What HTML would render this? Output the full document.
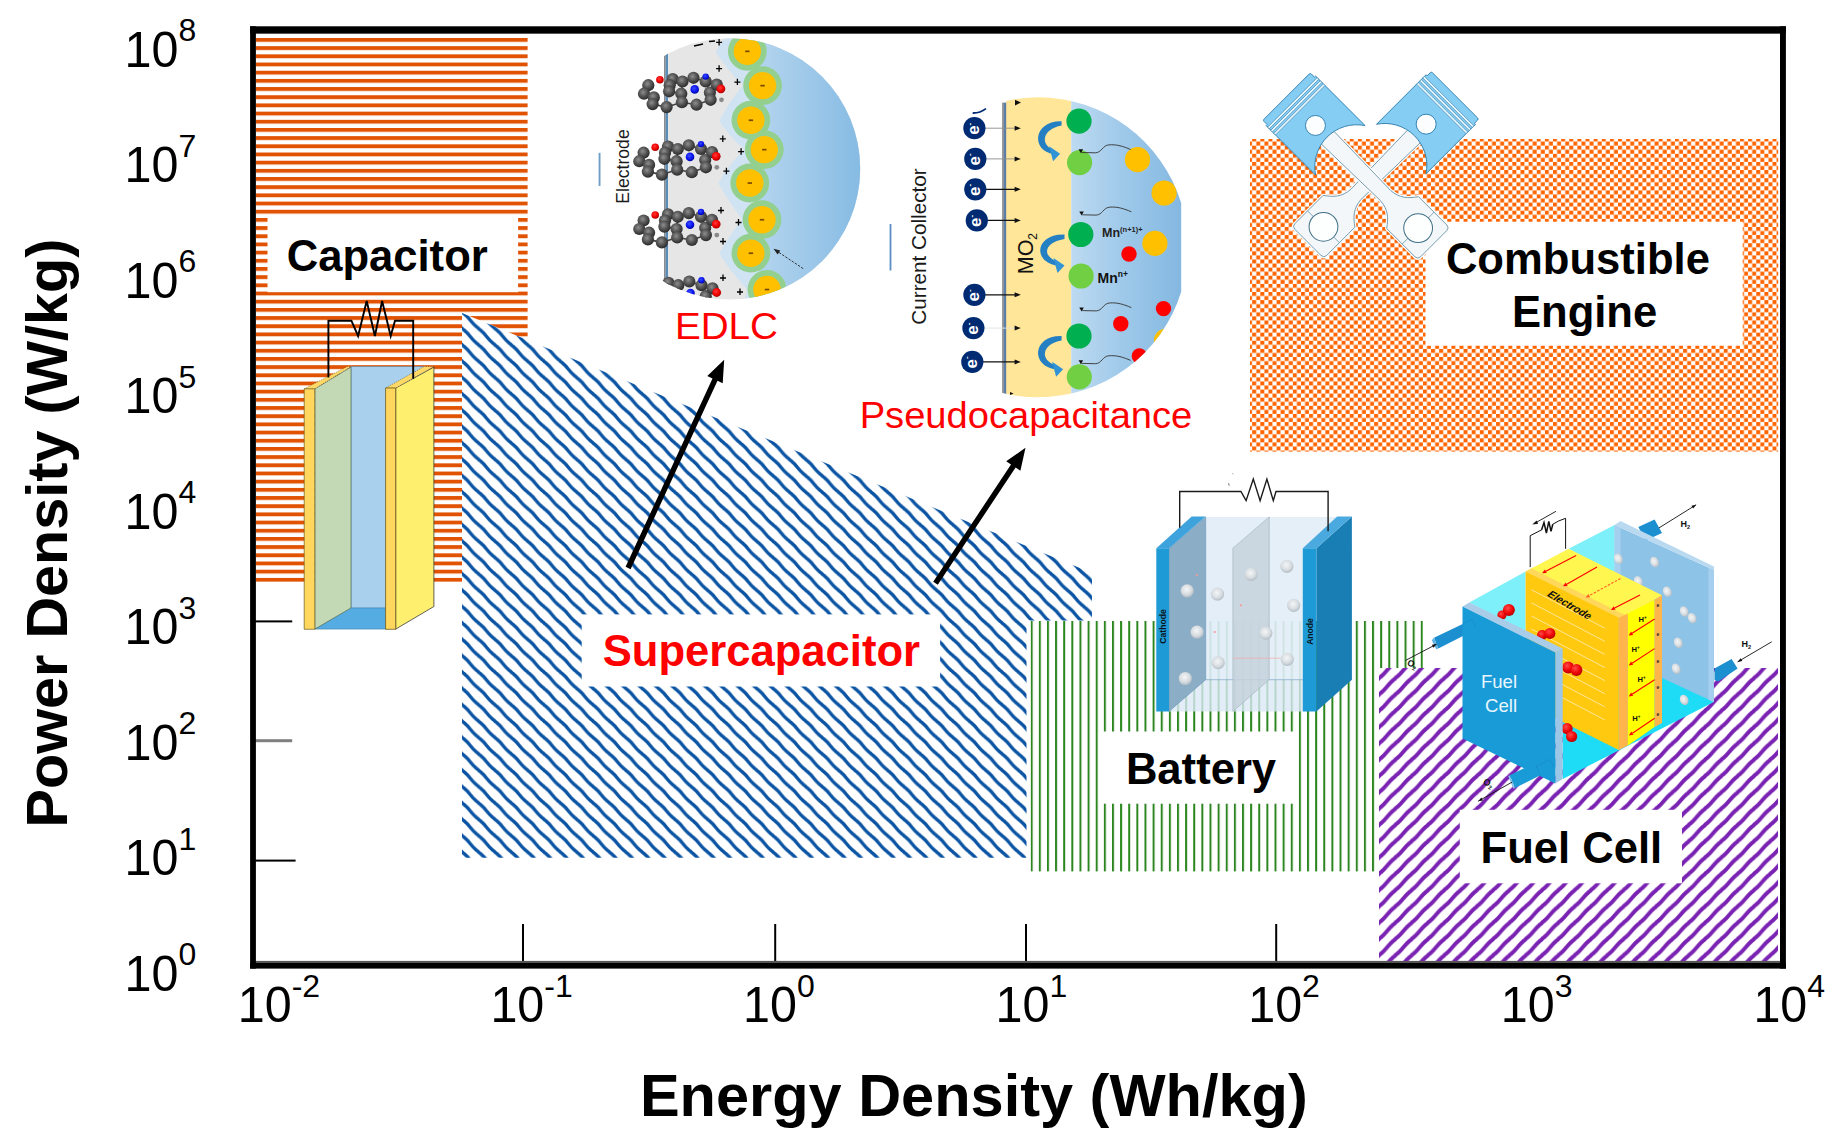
<!DOCTYPE html>
<html lang="en">
<head>
<meta charset="utf-8">
<title>Ragone plot - energy storage devices</title>
<style>
html,body{margin:0;padding:0;background:#fff;}
body{width:1839px;height:1147px;overflow:hidden;font-family:"Liberation Sans", Arial, Helvetica, sans-serif;}
svg{display:block;}
</style>
</head>
<body>
<svg width="1839" height="1147" viewBox="0 0 1839 1147">
<rect x="0" y="0" width="1839" height="1147" fill="#fff"/>
<defs>
<pattern id="pOrange" patternUnits="userSpaceOnUse" x="0" y="38.0" width="10" height="8.18">
  <rect x="0" y="0" width="10" height="3.85" fill="#e15203"/>
</pattern>
<pattern id="pBlue" patternUnits="userSpaceOnUse" x="462.1" y="328.4" width="16.36" height="16.36">
  <path d="M-4,-4 L0,0 Q4.64,3.54 8.18,8.18 T16.36,16.36 L20.36,20.36 M-4,12.36 L4,20.36 M12.36,-4 L20.36,4" stroke="#0a54a3" stroke-width="3.4" fill="none"/>
</pattern>
<pattern id="pPurple" patternUnits="userSpaceOnUse" x="1379" y="662" width="16.3" height="16.3">
  <path d="M-4,20.30 L0,16.30 Q4.53,12.68 8.15,8.15 T16.30,0 L20.30,-4 M-4,4 L4,-4 M12.30,20.30 L20.30,12.30" stroke="#7a22b2" stroke-width="3.95" fill="none"/>
</pattern>
<pattern id="pCheck" patternUnits="userSpaceOnUse" x="1252.2" y="137.55" width="8.13" height="8.13">
  <rect x="0" y="0" width="3.95" height="3.95" fill="#ff6400"/>
  <rect x="4.065" y="4.065" width="3.95" height="3.95" fill="#ff6400"/>
</pattern>
<pattern id="pGreen" patternUnits="userSpaceOnUse" x="1030.7" y="0" width="8.127" height="10">
  <rect x="0" y="0" width="2.0" height="10" fill="#2c861f"/>
</pattern>
</defs>
<rect x="256" y="36" width="271.6" height="546" fill="url(#pOrange)"/>
<rect x="1250" y="139" width="528.2" height="312.6" fill="url(#pCheck)"/>
<rect x="1030.5" y="621" width="392.5" height="250.4" fill="url(#pGreen)"/>
<polygon points="462,313 1092,573 1092,620.5 1026.5,620.5 1026.5,857.8 462,857.8" fill="#fff"/>
<polygon points="462,313 1092,573 1092,620.5 1026.5,620.5 1026.5,857.8 462,857.8" fill="url(#pBlue)"/>
<rect x="1379" y="668" width="399" height="293" fill="#fff"/>
<rect x="1379" y="668" width="399" height="293" fill="url(#pPurple)"/>
<rect x="267.5" y="215.0" width="250.6" height="77.2" fill="#fff"/>
<text x="387.2" y="271.0" font-family='"Liberation Sans", Arial, Helvetica, sans-serif' font-weight="700" font-size="43.6" text-anchor="middle" fill="#000">Capacitor</text>
<rect x="581.7" y="614.4" width="358.4" height="72.1" fill="#fff"/>
<text x="761.4" y="665.9" font-family='"Liberation Sans", Arial, Helvetica, sans-serif' font-weight="700" font-size="43.6" text-anchor="middle" fill="#ff0000">Supercapacitor</text>
<rect x="1425.5" y="221.7" width="317.2" height="124.0" fill="#fff"/>
<text x="1577.9" y="274.4" font-family='"Liberation Sans", Arial, Helvetica, sans-serif' font-weight="700" font-size="43.6" text-anchor="middle" fill="#000">Combustible</text>
<text x="1584.6" y="326.8" font-family='"Liberation Sans", Arial, Helvetica, sans-serif' font-weight="700" font-size="43.6" text-anchor="middle" fill="#000">Engine</text>
<rect x="1098.6" y="731.5" width="199.4" height="72.2" fill="#fff"/>
<text x="1201" y="783.7" font-family='"Liberation Sans", Arial, Helvetica, sans-serif' font-weight="700" font-size="43.6" text-anchor="middle" fill="#000">Battery</text>
<rect x="1459.8" y="809.8" width="222.2" height="73.5" fill="#fff"/>
<text x="1571.4" y="862.6" font-family='"Liberation Sans", Arial, Helvetica, sans-serif' font-weight="700" font-size="43.6" text-anchor="middle" fill="#000">Fuel Cell</text>
<polygon points="351.0,366.5 424.7,366.5 424.7,423.7 386.2,423.7 386.2,608.4 351.0,608.4" fill="#a9d1ee" stroke="#5b86a6" stroke-width="0.6" stroke-linejoin="round" />
<polygon points="314.8,629.1 351.0,607.9 386.2,607.9 386.2,629.1" fill="#55ace2" stroke="#3b78a6" stroke-width="0.6" stroke-linejoin="round" />
<polygon points="314.8,388.8 351.0,367.1 351.0,607.9 314.8,629.1" fill="#c3d8b4" stroke="#55705a" stroke-width="0.7" stroke-linejoin="round" />
<polygon points="304.2,388.8 347.4,366.5 351.0,366.5 314.8,388.8" fill="#ffd966" stroke="#3a3a3a" stroke-width="0.5" stroke-linejoin="round" stroke-dasharray="1.2 1.2"/>
<polygon points="304.2,388.8 314.8,388.8 314.8,629.3 304.2,629.3" fill="#ffd75e" stroke="#6b5a1e" stroke-width="0.7" stroke-linejoin="round" />
<polygon points="395.7,388.0 433.9,367.1 433.9,606.5 395.7,629.1" fill="#ffef6e" stroke="#3a3a3a" stroke-width="0.8" stroke-linejoin="round" />
<polygon points="385.6,388.0 424.2,366.5 433.9,366.5 395.7,388.0" fill="#ffd966" stroke="#3a3a3a" stroke-width="0.5" stroke-linejoin="round" stroke-dasharray="1.2 1.2"/>
<polygon points="385.6,388.0 395.7,388.0 395.7,629.3 385.6,629.3" fill="#ffd75e" stroke="#6b5a1e" stroke-width="0.8" stroke-linejoin="round" />
<path d="M328.4,377.5 L328.4,320.7 L351.4,320.7 L358.1,336 L366.7,301 L374.9,336 L382.1,301 L390.7,336 L395,320.7 L413.2,320.7 L413.2,378.7" fill="none" stroke="#000" stroke-width="1.9" stroke-linejoin="miter"/>
<polygon points="630.6,569.2 717.5,380.8 722.7,383.2 724.2,359.7 707.3,376.1 712.5,378.5 625.6,566.8" fill="#000" />
<polygon points="937.8,584.7 1015.6,467.5 1020.4,470.7 1025.5,447.7 1006.2,461.3 1011.0,464.5 933.2,581.7" fill="#000" />
<defs>
<clipPath id="clipE"><circle cx="729.6" cy="168.8" r="130.6"/></clipPath>
<linearGradient id="gEblue" x1="745" y1="0" x2="861" y2="0" gradientUnits="userSpaceOnUse">
  <stop offset="0" stop-color="#b9d8f0"/><stop offset="0.45" stop-color="#a3cbea"/><stop offset="1" stop-color="#86bbe3"/>
</linearGradient>
<radialGradient id="gBallG" cx="0.42" cy="0.38" r="0.65">
  <stop offset="0" stop-color="#8e8e8e"/><stop offset="0.5" stop-color="#565656"/><stop offset="1" stop-color="#262626"/>
</radialGradient>
<radialGradient id="gBallR" cx="0.42" cy="0.38" r="0.65">
  <stop offset="0" stop-color="#ff3a3a"/><stop offset="0.6" stop-color="#f00000"/><stop offset="1" stop-color="#a00000"/>
</radialGradient>
<radialGradient id="gBallB" cx="0.42" cy="0.38" r="0.65">
  <stop offset="0" stop-color="#3a4cff"/><stop offset="0.6" stop-color="#0a14f0"/><stop offset="1" stop-color="#0008a0"/>
</radialGradient>
</defs>
<rect x="598.6" y="152.8" width="1.9" height="33.2" fill="#6f9fc6"/>
<g clip-path="url(#clipE)">
<rect x="665" y="30" width="200" height="280" fill="#e6e6e6"/>
<path d="M735,30 Q723.3,36.3 715.8,51.8 Q724.8,66.8 742.6,85.6 Q726.9,105.2 719.4,120.7 Q728.4,135.7 744.3,149.6 Q725.8,168.0 718.3,183.5 Q727.3,198.5 742.0,219.7 Q726.9,238.2 719.4,253.7 Q728.4,268.7 747.0,289.5 L742,312 L870,312 L870,30 Z" fill="#cfe3f3"/>
<polygon points="752.0,30.0 749.3,35.3 755.3,51.3 749.3,67.3 764.6,69.6 770.6,85.6 764.6,101.6 752.9,104.2 758.9,120.2 752.9,136.2 766.3,133.6 772.3,149.6 766.3,165.6 751.8,167.0 757.8,183.0 751.8,199.0 764.0,203.7 770.0,219.7 764.0,235.7 752.9,237.2 758.9,253.2 752.9,269.2 769.0,273.5 775.0,289.5 769.0,305.5 770.0,312.0 870.0,312.0 870.0,30.0" fill="url(#gEblue)"/>
<rect x="664.0" y="30" width="1.6" height="280" fill="#8c8c8c"/>
<rect x="665.6" y="30" width="2.4" height="280" fill="#5a8db8"/>
<circle cx="747.3" cy="51.3" r="19.4" fill="#93d08f"/>
<circle cx="762.6" cy="85.6" r="19.4" fill="#93d08f"/>
<circle cx="750.9" cy="120.2" r="19.4" fill="#93d08f"/>
<circle cx="764.3" cy="149.6" r="19.4" fill="#93d08f"/>
<circle cx="749.8" cy="183.0" r="19.4" fill="#93d08f"/>
<circle cx="762.0" cy="219.7" r="19.4" fill="#93d08f"/>
<circle cx="750.9" cy="253.2" r="19.4" fill="#93d08f"/>
<circle cx="767.0" cy="289.5" r="19.4" fill="#93d08f"/>
<circle cx="747.3" cy="51.3" r="13.7" fill="#ffc000"/>
<rect x="745.1" y="50.5" width="4.4" height="1.7" fill="#7a4a00"/>
<circle cx="762.6" cy="85.6" r="13.7" fill="#ffc000"/>
<rect x="760.4" y="84.8" width="4.4" height="1.7" fill="#7a4a00"/>
<circle cx="750.9" cy="120.2" r="13.7" fill="#ffc000"/>
<rect x="748.7" y="119.4" width="4.4" height="1.7" fill="#7a4a00"/>
<circle cx="764.3" cy="149.6" r="13.7" fill="#ffc000"/>
<rect x="762.1" y="148.8" width="4.4" height="1.7" fill="#7a4a00"/>
<circle cx="749.8" cy="183.0" r="13.7" fill="#ffc000"/>
<rect x="747.6" y="182.2" width="4.4" height="1.7" fill="#7a4a00"/>
<circle cx="762.0" cy="219.7" r="13.7" fill="#ffc000"/>
<rect x="759.8" y="218.9" width="4.4" height="1.7" fill="#7a4a00"/>
<circle cx="750.9" cy="253.2" r="13.7" fill="#ffc000"/>
<rect x="748.7" y="252.4" width="4.4" height="1.7" fill="#7a4a00"/>
<circle cx="767.0" cy="289.5" r="13.7" fill="#ffc000"/>
<rect x="764.8" y="288.7" width="4.4" height="1.7" fill="#7a4a00"/>
<line x1="648.3" y1="85.2" x2="644.0" y2="93.7" stroke="#444" stroke-width="1.6"/>
<line x1="644.0" y1="93.7" x2="653.8" y2="97.4" stroke="#444" stroke-width="1.6"/>
<line x1="653.8" y1="97.4" x2="652.6" y2="104.1" stroke="#444" stroke-width="1.6"/>
<line x1="652.6" y1="104.1" x2="666.6" y2="107.1" stroke="#444" stroke-width="1.6"/>
<line x1="672.7" y1="79.1" x2="669.7" y2="85.2" stroke="#444" stroke-width="1.6"/>
<line x1="669.7" y1="85.2" x2="669.1" y2="91.3" stroke="#444" stroke-width="1.6"/>
<line x1="682.5" y1="81.5" x2="681.3" y2="93.7" stroke="#444" stroke-width="1.6"/>
<line x1="681.3" y1="93.7" x2="681.9" y2="102.2" stroke="#444" stroke-width="1.6"/>
<line x1="693.5" y1="77.8" x2="705.7" y2="81.5" stroke="#444" stroke-width="1.6"/>
<line x1="705.7" y1="81.5" x2="709.9" y2="92.5" stroke="#444" stroke-width="1.6"/>
<line x1="709.9" y1="92.5" x2="710.6" y2="99.8" stroke="#444" stroke-width="1.6"/>
<line x1="681.9" y1="102.2" x2="696.5" y2="104.7" stroke="#444" stroke-width="1.6"/>
<line x1="669.1" y1="91.3" x2="681.3" y2="93.7" stroke="#444" stroke-width="1.6"/>
<line x1="672.7" y1="79.1" x2="682.5" y2="81.5" stroke="#444" stroke-width="1.6"/>
<line x1="682.5" y1="81.5" x2="693.5" y2="77.8" stroke="#444" stroke-width="1.6"/>
<line x1="666.6" y1="107.1" x2="681.9" y2="102.2" stroke="#444" stroke-width="1.6"/>
<line x1="696.5" y1="104.7" x2="710.6" y2="99.8" stroke="#444" stroke-width="1.6"/>
<line x1="705.7" y1="81.5" x2="716.7" y2="84.6" stroke="#444" stroke-width="1.6"/>
<circle cx="648.3" cy="85.2" r="6.1" fill="url(#gBallG)"/>
<circle cx="644.0" cy="93.7" r="6.1" fill="url(#gBallG)"/>
<circle cx="653.8" cy="97.4" r="6.1" fill="url(#gBallG)"/>
<circle cx="652.6" cy="104.1" r="6.1" fill="url(#gBallG)"/>
<circle cx="666.6" cy="107.1" r="6.1" fill="url(#gBallG)"/>
<circle cx="672.7" cy="79.1" r="6.1" fill="url(#gBallG)"/>
<circle cx="669.7" cy="85.2" r="6.1" fill="url(#gBallG)"/>
<circle cx="669.1" cy="91.3" r="6.1" fill="url(#gBallG)"/>
<circle cx="682.5" cy="81.5" r="6.1" fill="url(#gBallG)"/>
<circle cx="681.3" cy="93.7" r="6.1" fill="url(#gBallG)"/>
<circle cx="681.9" cy="102.2" r="6.1" fill="url(#gBallG)"/>
<circle cx="693.5" cy="77.8" r="6.1" fill="url(#gBallG)"/>
<circle cx="696.5" cy="104.7" r="6.1" fill="url(#gBallG)"/>
<circle cx="705.7" cy="81.5" r="6.1" fill="url(#gBallG)"/>
<circle cx="709.9" cy="92.5" r="6.1" fill="url(#gBallG)"/>
<circle cx="710.6" cy="99.8" r="6.1" fill="url(#gBallG)"/>
<circle cx="716.7" cy="84.6" r="6.1" fill="url(#gBallG)"/>
<circle cx="721.5" cy="99.8" r="2.4" fill="#8a8a8a"/>
<circle cx="659.9" cy="79.7" r="3.8" fill="url(#gBallR)"/>
<circle cx="720.9" cy="88.8" r="4.4" fill="url(#gBallR)"/>
<circle cx="705.7" cy="76.6" r="3.2" fill="url(#gBallB)"/>
<circle cx="694.7" cy="89.4" r="4.3" fill="url(#gBallB)"/>
<line x1="643.6" y1="152.7" x2="639.3" y2="161.2" stroke="#444" stroke-width="1.6"/>
<line x1="639.3" y1="161.2" x2="649.1" y2="164.9" stroke="#444" stroke-width="1.6"/>
<line x1="649.1" y1="164.9" x2="647.9" y2="171.6" stroke="#444" stroke-width="1.6"/>
<line x1="647.9" y1="171.6" x2="661.9" y2="174.6" stroke="#444" stroke-width="1.6"/>
<line x1="668.0" y1="146.6" x2="665.0" y2="152.7" stroke="#444" stroke-width="1.6"/>
<line x1="665.0" y1="152.7" x2="664.4" y2="158.8" stroke="#444" stroke-width="1.6"/>
<line x1="677.8" y1="149.0" x2="676.6" y2="161.2" stroke="#444" stroke-width="1.6"/>
<line x1="676.6" y1="161.2" x2="677.2" y2="169.7" stroke="#444" stroke-width="1.6"/>
<line x1="688.8" y1="145.3" x2="701.0" y2="149.0" stroke="#444" stroke-width="1.6"/>
<line x1="701.0" y1="149.0" x2="705.2" y2="160.0" stroke="#444" stroke-width="1.6"/>
<line x1="705.2" y1="160.0" x2="705.9" y2="167.3" stroke="#444" stroke-width="1.6"/>
<line x1="677.2" y1="169.7" x2="691.8" y2="172.2" stroke="#444" stroke-width="1.6"/>
<line x1="664.4" y1="158.8" x2="676.6" y2="161.2" stroke="#444" stroke-width="1.6"/>
<line x1="668.0" y1="146.6" x2="677.8" y2="149.0" stroke="#444" stroke-width="1.6"/>
<line x1="677.8" y1="149.0" x2="688.8" y2="145.3" stroke="#444" stroke-width="1.6"/>
<line x1="661.9" y1="174.6" x2="677.2" y2="169.7" stroke="#444" stroke-width="1.6"/>
<line x1="691.8" y1="172.2" x2="705.9" y2="167.3" stroke="#444" stroke-width="1.6"/>
<line x1="701.0" y1="149.0" x2="712.0" y2="152.1" stroke="#444" stroke-width="1.6"/>
<circle cx="643.6" cy="152.7" r="6.1" fill="url(#gBallG)"/>
<circle cx="639.3" cy="161.2" r="6.1" fill="url(#gBallG)"/>
<circle cx="649.1" cy="164.9" r="6.1" fill="url(#gBallG)"/>
<circle cx="647.9" cy="171.6" r="6.1" fill="url(#gBallG)"/>
<circle cx="661.9" cy="174.6" r="6.1" fill="url(#gBallG)"/>
<circle cx="668.0" cy="146.6" r="6.1" fill="url(#gBallG)"/>
<circle cx="665.0" cy="152.7" r="6.1" fill="url(#gBallG)"/>
<circle cx="664.4" cy="158.8" r="6.1" fill="url(#gBallG)"/>
<circle cx="677.8" cy="149.0" r="6.1" fill="url(#gBallG)"/>
<circle cx="676.6" cy="161.2" r="6.1" fill="url(#gBallG)"/>
<circle cx="677.2" cy="169.7" r="6.1" fill="url(#gBallG)"/>
<circle cx="688.8" cy="145.3" r="6.1" fill="url(#gBallG)"/>
<circle cx="691.8" cy="172.2" r="6.1" fill="url(#gBallG)"/>
<circle cx="701.0" cy="149.0" r="6.1" fill="url(#gBallG)"/>
<circle cx="705.2" cy="160.0" r="6.1" fill="url(#gBallG)"/>
<circle cx="705.9" cy="167.3" r="6.1" fill="url(#gBallG)"/>
<circle cx="712.0" cy="152.1" r="6.1" fill="url(#gBallG)"/>
<circle cx="716.8" cy="167.3" r="2.4" fill="#8a8a8a"/>
<circle cx="655.2" cy="147.2" r="3.8" fill="url(#gBallR)"/>
<circle cx="716.2" cy="156.3" r="4.4" fill="url(#gBallR)"/>
<circle cx="701.0" cy="144.1" r="3.2" fill="url(#gBallB)"/>
<circle cx="690.0" cy="156.9" r="4.3" fill="url(#gBallB)"/>
<line x1="643.6" y1="220.5" x2="639.3" y2="229.0" stroke="#444" stroke-width="1.6"/>
<line x1="639.3" y1="229.0" x2="649.1" y2="232.7" stroke="#444" stroke-width="1.6"/>
<line x1="649.1" y1="232.7" x2="647.9" y2="239.4" stroke="#444" stroke-width="1.6"/>
<line x1="647.9" y1="239.4" x2="661.9" y2="242.4" stroke="#444" stroke-width="1.6"/>
<line x1="668.0" y1="214.4" x2="665.0" y2="220.5" stroke="#444" stroke-width="1.6"/>
<line x1="665.0" y1="220.5" x2="664.4" y2="226.6" stroke="#444" stroke-width="1.6"/>
<line x1="677.8" y1="216.8" x2="676.6" y2="229.0" stroke="#444" stroke-width="1.6"/>
<line x1="676.6" y1="229.0" x2="677.2" y2="237.5" stroke="#444" stroke-width="1.6"/>
<line x1="688.8" y1="213.1" x2="701.0" y2="216.8" stroke="#444" stroke-width="1.6"/>
<line x1="701.0" y1="216.8" x2="705.2" y2="227.8" stroke="#444" stroke-width="1.6"/>
<line x1="705.2" y1="227.8" x2="705.9" y2="235.1" stroke="#444" stroke-width="1.6"/>
<line x1="677.2" y1="237.5" x2="691.8" y2="240.0" stroke="#444" stroke-width="1.6"/>
<line x1="664.4" y1="226.6" x2="676.6" y2="229.0" stroke="#444" stroke-width="1.6"/>
<line x1="668.0" y1="214.4" x2="677.8" y2="216.8" stroke="#444" stroke-width="1.6"/>
<line x1="677.8" y1="216.8" x2="688.8" y2="213.1" stroke="#444" stroke-width="1.6"/>
<line x1="661.9" y1="242.4" x2="677.2" y2="237.5" stroke="#444" stroke-width="1.6"/>
<line x1="691.8" y1="240.0" x2="705.9" y2="235.1" stroke="#444" stroke-width="1.6"/>
<line x1="701.0" y1="216.8" x2="712.0" y2="219.9" stroke="#444" stroke-width="1.6"/>
<circle cx="643.6" cy="220.5" r="6.1" fill="url(#gBallG)"/>
<circle cx="639.3" cy="229.0" r="6.1" fill="url(#gBallG)"/>
<circle cx="649.1" cy="232.7" r="6.1" fill="url(#gBallG)"/>
<circle cx="647.9" cy="239.4" r="6.1" fill="url(#gBallG)"/>
<circle cx="661.9" cy="242.4" r="6.1" fill="url(#gBallG)"/>
<circle cx="668.0" cy="214.4" r="6.1" fill="url(#gBallG)"/>
<circle cx="665.0" cy="220.5" r="6.1" fill="url(#gBallG)"/>
<circle cx="664.4" cy="226.6" r="6.1" fill="url(#gBallG)"/>
<circle cx="677.8" cy="216.8" r="6.1" fill="url(#gBallG)"/>
<circle cx="676.6" cy="229.0" r="6.1" fill="url(#gBallG)"/>
<circle cx="677.2" cy="237.5" r="6.1" fill="url(#gBallG)"/>
<circle cx="688.8" cy="213.1" r="6.1" fill="url(#gBallG)"/>
<circle cx="691.8" cy="240.0" r="6.1" fill="url(#gBallG)"/>
<circle cx="701.0" cy="216.8" r="6.1" fill="url(#gBallG)"/>
<circle cx="705.2" cy="227.8" r="6.1" fill="url(#gBallG)"/>
<circle cx="705.9" cy="235.1" r="6.1" fill="url(#gBallG)"/>
<circle cx="712.0" cy="219.9" r="6.1" fill="url(#gBallG)"/>
<circle cx="716.8" cy="235.1" r="2.4" fill="#8a8a8a"/>
<circle cx="655.2" cy="215.0" r="3.8" fill="url(#gBallR)"/>
<circle cx="716.2" cy="224.1" r="4.4" fill="url(#gBallR)"/>
<circle cx="701.0" cy="211.9" r="3.2" fill="url(#gBallB)"/>
<circle cx="690.0" cy="224.7" r="4.3" fill="url(#gBallB)"/>
<line x1="644.1" y1="288.9" x2="639.8" y2="297.4" stroke="#444" stroke-width="1.6"/>
<line x1="639.8" y1="297.4" x2="649.6" y2="301.1" stroke="#444" stroke-width="1.6"/>
<line x1="649.6" y1="301.1" x2="648.4" y2="307.8" stroke="#444" stroke-width="1.6"/>
<line x1="648.4" y1="307.8" x2="662.4" y2="310.8" stroke="#444" stroke-width="1.6"/>
<line x1="668.5" y1="282.8" x2="665.5" y2="288.9" stroke="#444" stroke-width="1.6"/>
<line x1="665.5" y1="288.9" x2="664.9" y2="295.0" stroke="#444" stroke-width="1.6"/>
<line x1="678.3" y1="285.2" x2="677.1" y2="297.4" stroke="#444" stroke-width="1.6"/>
<line x1="677.1" y1="297.4" x2="677.7" y2="305.9" stroke="#444" stroke-width="1.6"/>
<line x1="689.3" y1="281.5" x2="701.5" y2="285.2" stroke="#444" stroke-width="1.6"/>
<line x1="701.5" y1="285.2" x2="705.7" y2="296.2" stroke="#444" stroke-width="1.6"/>
<line x1="705.7" y1="296.2" x2="706.4" y2="303.5" stroke="#444" stroke-width="1.6"/>
<line x1="677.7" y1="305.9" x2="692.3" y2="308.4" stroke="#444" stroke-width="1.6"/>
<line x1="664.9" y1="295.0" x2="677.1" y2="297.4" stroke="#444" stroke-width="1.6"/>
<line x1="668.5" y1="282.8" x2="678.3" y2="285.2" stroke="#444" stroke-width="1.6"/>
<line x1="678.3" y1="285.2" x2="689.3" y2="281.5" stroke="#444" stroke-width="1.6"/>
<line x1="662.4" y1="310.8" x2="677.7" y2="305.9" stroke="#444" stroke-width="1.6"/>
<line x1="692.3" y1="308.4" x2="706.4" y2="303.5" stroke="#444" stroke-width="1.6"/>
<line x1="701.5" y1="285.2" x2="712.5" y2="288.3" stroke="#444" stroke-width="1.6"/>
<circle cx="644.1" cy="288.9" r="6.1" fill="url(#gBallG)"/>
<circle cx="639.8" cy="297.4" r="6.1" fill="url(#gBallG)"/>
<circle cx="649.6" cy="301.1" r="6.1" fill="url(#gBallG)"/>
<circle cx="648.4" cy="307.8" r="6.1" fill="url(#gBallG)"/>
<circle cx="662.4" cy="310.8" r="6.1" fill="url(#gBallG)"/>
<circle cx="668.5" cy="282.8" r="6.1" fill="url(#gBallG)"/>
<circle cx="665.5" cy="288.9" r="6.1" fill="url(#gBallG)"/>
<circle cx="664.9" cy="295.0" r="6.1" fill="url(#gBallG)"/>
<circle cx="678.3" cy="285.2" r="6.1" fill="url(#gBallG)"/>
<circle cx="677.1" cy="297.4" r="6.1" fill="url(#gBallG)"/>
<circle cx="677.7" cy="305.9" r="6.1" fill="url(#gBallG)"/>
<circle cx="689.3" cy="281.5" r="6.1" fill="url(#gBallG)"/>
<circle cx="692.3" cy="308.4" r="6.1" fill="url(#gBallG)"/>
<circle cx="701.5" cy="285.2" r="6.1" fill="url(#gBallG)"/>
<circle cx="705.7" cy="296.2" r="6.1" fill="url(#gBallG)"/>
<circle cx="706.4" cy="303.5" r="6.1" fill="url(#gBallG)"/>
<circle cx="712.5" cy="288.3" r="6.1" fill="url(#gBallG)"/>
<circle cx="717.3" cy="303.5" r="2.4" fill="#8a8a8a"/>
<circle cx="655.7" cy="283.4" r="3.8" fill="url(#gBallR)"/>
<circle cx="716.7" cy="292.5" r="4.4" fill="url(#gBallR)"/>
<circle cx="701.5" cy="280.3" r="3.2" fill="url(#gBallB)"/>
<circle cx="690.5" cy="293.1" r="4.3" fill="url(#gBallB)"/>
<path d="M716.1,42.4 h6 M719.1,39.0 v6.4" stroke="#000" stroke-width="1.3" fill="none"/>
<path d="M716.1,68.7 h6 M719.1,65.3 v6.4" stroke="#000" stroke-width="1.3" fill="none"/>
<path d="M734.4,82.1 h6 M737.4,78.7 v6.4" stroke="#000" stroke-width="1.3" fill="none"/>
<path d="M719.8,138.9 h6 M722.8,135.5 v6.4" stroke="#000" stroke-width="1.3" fill="none"/>
<path d="M738.1,151.7 h6 M741.1,148.3 v6.4" stroke="#000" stroke-width="1.3" fill="none"/>
<path d="M723.4,171.2 h6 M726.4,167.8 v6.4" stroke="#000" stroke-width="1.3" fill="none"/>
<path d="M718.0,210.5 h6 M721.0,207.1 v6.4" stroke="#000" stroke-width="1.3" fill="none"/>
<path d="M735.5,222.5 h6 M738.5,219.1 v6.4" stroke="#000" stroke-width="1.3" fill="none"/>
<path d="M720.0,241.5 h6 M723.0,238.1 v6.4" stroke="#000" stroke-width="1.3" fill="none"/>
<path d="M720.0,278.0 h6 M723.0,274.6 v6.4" stroke="#000" stroke-width="1.3" fill="none"/>
<path d="M737.0,292.0 h6 M740.0,288.6 v6.4" stroke="#000" stroke-width="1.3" fill="none"/>
<path d="M694,46 l9,-2 M709,41.5 l6,-0.5" stroke="#000" stroke-width="1.6" fill="none"/>
<path d="M803.2,268.6 L776.5,250.8" stroke="#333" stroke-width="1" stroke-dasharray="2.4 1.4" fill="none"/>
<polygon points="773.5,248.8 780.3,250.5 777.6,254.4" fill="#222"/>
<path d="M787,287.5 l4,-2" stroke="#444" stroke-width="0.9"/>
<text transform="translate(628.6,166.5) rotate(-90)" font-family='"Liberation Sans", Arial, Helvetica, sans-serif' font-size="17.6" text-anchor="middle" fill="#1a1a1a">Electrode</text>
</g>
<text x="726.4" y="338.8" font-family='"Liberation Sans", Arial, Helvetica, sans-serif' font-size="37" text-anchor="middle" textLength="103" lengthAdjust="spacingAndGlyphs" fill="#ff0000">EDLC</text>
<defs>
<clipPath id="clipP0"><rect x="889.6" y="90" width="291.6" height="320"/></clipPath>
<clipPath id="clipP" clip-path="url(#clipP0)"><circle cx="1037.9" cy="247.3" r="150.0"/></clipPath>
<linearGradient id="gPblue" x1="1071" y1="0" x2="1181" y2="0" gradientUnits="userSpaceOnUse">
  <stop offset="0" stop-color="#bddaf1"/><stop offset="0.5" stop-color="#9dc8e9"/><stop offset="1" stop-color="#84b8e1"/>
</linearGradient>
</defs>
<rect x="889.6" y="224" width="1.8" height="46.5" fill="#5b8fc4"/>
<g clip-path="url(#clipP)">
<rect x="1006" y="86" width="65.2" height="330" fill="#ffe699"/>
<rect x="1071.2" y="86" width="120" height="330" fill="url(#gPblue)"/>
<rect x="1002" y="102.6" width="2" height="300" fill="#9a9a9a"/>
<rect x="1003.8" y="102.6" width="2.4" height="300" fill="#5c7fa8"/>
<line x1="984.4" y1="128.2" x2="1015" y2="128.2" stroke="#8c8c8c" stroke-width="0.9"/>
<polygon points="1014.6,125.7 1020.8,128.2 1014.6,130.7" fill="#111"/>
<line x1="985.3" y1="158.9" x2="1015" y2="158.9" stroke="#8c8c8c" stroke-width="0.9"/>
<polygon points="1014.6,156.4 1020.8,158.9 1014.6,161.4" fill="#111"/>
<line x1="985.3" y1="189.3" x2="1015" y2="189.3" stroke="#111" stroke-width="1.3"/>
<polygon points="1014.6,186.8 1020.8,189.3 1014.6,191.8" fill="#111"/>
<line x1="986.8" y1="220.4" x2="1015" y2="220.4" stroke="#111" stroke-width="1.3"/>
<polygon points="1014.6,217.9 1020.8,220.4 1014.6,222.9" fill="#111"/>
<line x1="984.4" y1="294.8" x2="1015" y2="294.8" stroke="#111" stroke-width="1.2"/>
<polygon points="1014.6,292.3 1020.8,294.8 1014.6,297.3" fill="#111"/>
<line x1="983.4" y1="328.1" x2="1015" y2="328.1" stroke="#e2e2e2" stroke-width="0.9"/>
<polygon points="1014.6,325.6 1020.8,328.1 1014.6,330.6" fill="#111"/>
<line x1="982.3" y1="361.9" x2="1015" y2="361.9" stroke="#111" stroke-width="1.3"/>
<polygon points="1014.6,359.4 1020.8,361.9 1014.6,364.4" fill="#111"/>
<polygon points="1015,99.8 1021,102.6 1015,105.4" fill="#111"/>
<polygon points="1010,392.0 1013.5,393.6 1010,395.2" fill="#111"/>
<circle cx="974.4" cy="128.2" r="11.1" fill="#002b73"/>
<text transform="translate(979.0,128.8) rotate(-90)" font-family='"Liberation Sans", Arial, Helvetica, sans-serif' font-size="17" font-weight="700" text-anchor="middle" fill="#fff">e<tspan font-size="8" dy="-7.5">-</tspan></text>
<circle cx="975.3" cy="158.9" r="11.1" fill="#002b73"/>
<text transform="translate(979.9,159.5) rotate(-90)" font-family='"Liberation Sans", Arial, Helvetica, sans-serif' font-size="17" font-weight="700" text-anchor="middle" fill="#fff">e<tspan font-size="8" dy="-7.5">-</tspan></text>
<circle cx="975.3" cy="189.3" r="11.1" fill="#002b73"/>
<text transform="translate(979.9,189.9) rotate(-90)" font-family='"Liberation Sans", Arial, Helvetica, sans-serif' font-size="17" font-weight="700" text-anchor="middle" fill="#fff">e<tspan font-size="8" dy="-7.5">-</tspan></text>
<circle cx="976.8" cy="220.4" r="11.1" fill="#002b73"/>
<text transform="translate(981.4,221.0) rotate(-90)" font-family='"Liberation Sans", Arial, Helvetica, sans-serif' font-size="17" font-weight="700" text-anchor="middle" fill="#fff">e<tspan font-size="8" dy="-7.5">-</tspan></text>
<circle cx="974.4" cy="294.8" r="11.1" fill="#002b73"/>
<text transform="translate(979.0,295.4) rotate(-90)" font-family='"Liberation Sans", Arial, Helvetica, sans-serif' font-size="17" font-weight="700" text-anchor="middle" fill="#fff">e<tspan font-size="8" dy="-7.5">-</tspan></text>
<circle cx="973.4" cy="328.1" r="11.1" fill="#002b73"/>
<text transform="translate(978.0,328.7) rotate(-90)" font-family='"Liberation Sans", Arial, Helvetica, sans-serif' font-size="17" font-weight="700" text-anchor="middle" fill="#fff">e<tspan font-size="8" dy="-7.5">-</tspan></text>
<circle cx="972.3" cy="361.9" r="11.1" fill="#002b73"/>
<text transform="translate(976.9,362.5) rotate(-90)" font-family='"Liberation Sans", Arial, Helvetica, sans-serif' font-size="17" font-weight="700" text-anchor="middle" fill="#fff">e<tspan font-size="8" dy="-7.5">-</tspan></text>
<path d="M972.6,113 Q980,113.2 986,108.6" stroke="#002b73" stroke-width="1.8" fill="none"/>
<path d="M1061.6,121.2 C1033.3,120.4 1030.3,150.7 1054.1,154.2 L1052.1,149.2 C1041.3,144.7 1041.3,129.4 1061.6,125.60000000000001 Z" fill="#2580c3"/>
<polygon points="1049.1,146.2 1060.1,153.7 1053.1,161.2" fill="#2f93d6"/>
<path d="M1064.5,234.5 C1034.8,233.7 1031.8,262.5 1058.5,266.0 L1056.5,261.0 C1042.8,256.5 1042.8,242.7 1064.5,238.89999999999998 Z" fill="#2580c3"/>
<polygon points="1053.5,258.0 1064.5,265.5 1057.5,273.0" fill="#2f93d6"/>
<path d="M1061.6,336.0 C1032.6,335.2 1029.6,366.3 1057.1,369.8 L1055.1,364.8 C1040.6,360.3 1040.6,344.2 1061.6,340.4 Z" fill="#2580c3"/>
<polygon points="1052.1,361.8 1063.1,369.3 1056.1,376.8" fill="#2f93d6"/>
<circle cx="1079" cy="121.1" r="12.6" fill="#00b050"/>
<circle cx="1079.6" cy="162.6" r="12.6" fill="#70cf42"/>
<circle cx="1080.8" cy="234.5" r="12.6" fill="#00b050"/>
<circle cx="1081.1" cy="276.0" r="12.6" fill="#70cf42"/>
<circle cx="1079.0" cy="336.0" r="12.6" fill="#00b050"/>
<circle cx="1079.3" cy="376.8" r="12.6" fill="#70cf42"/>
<circle cx="1137.5" cy="159.7" r="12.6" fill="#ffc000"/>
<circle cx="1164.1" cy="193.0" r="12.6" fill="#ffc000"/>
<circle cx="1154.9" cy="243.4" r="12.6" fill="#ffc000"/>
<circle cx="1129" cy="254" r="7.7" fill="#ff0000"/>
<circle cx="1163.5" cy="308.6" r="7.7" fill="#ff0000"/>
<circle cx="1120.8" cy="323.7" r="7.7" fill="#ff0000"/>
<circle cx="1139.4" cy="356.0" r="7.7" fill="#ff0000"/>
<circle cx="1166.4" cy="341" r="12.6" fill="#ffc000"/>
<path d="M1081.6,152.5 L1095.6,152.8 C1101.6,152.5 1102.6,145.5 1108.6,144.9 C1116.6,144.1 1123.6,146.5 1130.6,149.5" stroke="#333" stroke-width="0.9" fill="none"/><polygon points="1078.6,149.3 1083.1,149.3 1080.8999999999999,153.3" fill="#111"/>
<path d="M1082.3,214.8 L1096.3,215.10000000000002 C1102.3,214.8 1103.3,207.8 1109.3,207.20000000000002 C1117.3,206.4 1124.3,208.8 1131.3,211.8" stroke="#333" stroke-width="0.9" fill="none"/><polygon points="1079.3,211.60000000000002 1083.8,211.60000000000002 1081.6,215.60000000000002" fill="#111"/>
<path d="M1082.3,310.6 L1096.3,310.90000000000003 C1102.3,310.6 1103.3,303.6 1109.3,303.0 C1117.3,302.20000000000005 1124.3,304.6 1131.3,307.6" stroke="#333" stroke-width="0.9" fill="none"/><polygon points="1079.3,307.40000000000003 1083.8,307.40000000000003 1081.6,311.40000000000003" fill="#111"/>
<path d="M1081.6,363.4 L1095.6,363.7 C1101.6,363.4 1102.6,356.4 1108.6,355.79999999999995 C1116.6,355.0 1123.6,357.4 1130.6,360.4" stroke="#333" stroke-width="0.9" fill="none"/><polygon points="1078.6,360.2 1083.1,360.2 1080.8999999999999,364.2" fill="#111"/>
<text transform="translate(1033.2,253.6) rotate(-90)" font-family='"Liberation Sans", Arial, Helvetica, sans-serif' font-size="21.5" text-anchor="middle" fill="#111">MO<tspan font-size="12" dy="4">2</tspan></text>
<text x="1102" y="236.5" font-family='"Liberation Sans", Arial, Helvetica, sans-serif' font-size="12.5" font-weight="700" fill="#222">Mn<tspan font-size="7.5" dy="-5">(n+1)+</tspan></text>
<text x="1097.6" y="283" font-family='"Liberation Sans", Arial, Helvetica, sans-serif' font-size="14" font-weight="700" fill="#111">Mn<tspan font-size="8.5" dy="-6">n+</tspan></text>
</g>
<text transform="translate(926.3,246.5) rotate(-90)" font-family='"Liberation Sans", Arial, Helvetica, sans-serif' font-size="20.7" text-anchor="middle" fill="#1a1a1a">Current Collector</text>
<text x="1026" y="428" font-family='"Liberation Sans", Arial, Helvetica, sans-serif' font-size="37" text-anchor="middle" textLength="332.6" lengthAdjust="spacingAndGlyphs" fill="#ff0000">Pseudocapacitance</text>
<g transform="translate(1455,95.3) rotate(45)"><path d="M-9.5,34 L9.5,34 L7.2,140 C8,152 14,158 22.5,164 L22.5,204 Q22.5,208 18.5,208 L-18.5,208 Q-22.5,208 -22.5,204 L-22.5,164 C-14,158 -8,152 -7.2,140 Z" fill="#f3f7f9" stroke="#ffffff" stroke-width="3.2" stroke-linejoin="round"/><path d="M-9.5,34 L9.5,34 L7.2,140 C8,152 14,158 22.5,164 L22.5,204 Q22.5,208 18.5,208 L-18.5,208 Q-22.5,208 -22.5,204 L-22.5,164 C-14,158 -8,152 -7.2,140 Z" fill="#f3f7f9" stroke="#6f97aa" stroke-width="0.9" stroke-linejoin="round"/><path d="M-22.5,186 L-14.5,186 M14.5,186 L22.5,186" stroke="#6f97aa" stroke-width="0.8"/><circle cx="0" cy="186" r="14.4" fill="#fdfefe" stroke="#3f6f86" stroke-width="1"/></g>
<g transform="translate(1286.6,96.6) rotate(-45)"><path d="M-9.5,34 L9.5,34 L7.2,140 C8,152 14,158 22.5,164 L22.5,204 Q22.5,208 18.5,208 L-18.5,208 Q-22.5,208 -22.5,204 L-22.5,164 C-14,158 -8,152 -7.2,140 Z" fill="#f3f7f9" stroke="#ffffff" stroke-width="3.2" stroke-linejoin="round"/><path d="M-9.5,34 L9.5,34 L7.2,140 C8,152 14,158 22.5,164 L22.5,204 Q22.5,208 18.5,208 L-18.5,208 Q-22.5,208 -22.5,204 L-22.5,164 C-14,158 -8,152 -7.2,140 Z" fill="#f3f7f9" stroke="#6f97aa" stroke-width="0.9" stroke-linejoin="round"/><path d="M-22.5,186 L-14.5,186 M14.5,186 L22.5,186" stroke="#6f97aa" stroke-width="0.8"/><circle cx="0" cy="186" r="14.4" fill="#fdfefe" stroke="#3f6f86" stroke-width="1"/></g>
<g transform="translate(1455,95.3) rotate(45)"><path d="M-33.5,1.5 Q-33.5,0 -32,0 L32,0 Q33.5,0 33.5,1.5 L33.5,6 L35,6 L35,76 A42,42 0 0 0 -35,76 L-35,6 L-33.5,6 Z" fill="#86cdf3" stroke="#2f7fae" stroke-width="0.9" stroke-linejoin="round"/><rect x="-35" y="8.2" width="70" height="2.3" fill="#eaf6fd" stroke="#2f7fae" stroke-width="0.6"/><rect x="-35" y="12.6" width="70" height="2.3" fill="#eaf6fd" stroke="#2f7fae" stroke-width="0.6"/><rect x="-35" y="17.0" width="70" height="2.3" fill="#eaf6fd" stroke="#2f7fae" stroke-width="0.6"/><circle cx="0" cy="40.8" r="10" fill="#fbfdfe" stroke="#2f7fae" stroke-width="0.9"/></g>
<g transform="translate(1286.6,96.6) rotate(-45)"><path d="M-33.5,1.5 Q-33.5,0 -32,0 L32,0 Q33.5,0 33.5,1.5 L33.5,6 L35,6 L35,76 A42,42 0 0 0 -35,76 L-35,6 L-33.5,6 Z" fill="#86cdf3" stroke="#2f7fae" stroke-width="0.9" stroke-linejoin="round"/><rect x="-35" y="8.2" width="70" height="2.3" fill="#eaf6fd" stroke="#2f7fae" stroke-width="0.6"/><rect x="-35" y="12.6" width="70" height="2.3" fill="#eaf6fd" stroke="#2f7fae" stroke-width="0.6"/><rect x="-35" y="17.0" width="70" height="2.3" fill="#eaf6fd" stroke="#2f7fae" stroke-width="0.6"/><circle cx="0" cy="40.8" r="10" fill="#fbfdfe" stroke="#2f7fae" stroke-width="0.9"/></g>
<defs><radialGradient id="gBallW" cx="0.45" cy="0.4" r="0.6">
<stop offset="0" stop-color="#f4f6f7"/><stop offset="0.6" stop-color="#d9dee2"/><stop offset="1" stop-color="#b4bec6"/>
</radialGradient></defs>
<polygon points="1205.7,516.9 1337.2,516.9 1303.2,548.2 1303.2,711.4 1169.0,711.4 1169.0,548.2" fill="#dbe9f5" fill-opacity="0.8"/>
<polygon points="1205.7,516.9 1269.2,516.9 1269.2,679.7 1205.7,679.7" fill="#e4f0fa" fill-opacity="0.5"/>
<polygon points="1269.2,516.9 1337.2,516.9 1303.2,548.2 1303.2,679.7 1269.2,679.7" fill="#e6f1fa" fill-opacity="0.55"/>
<path d="M1205.7,679.7 L1303.2,679.7" stroke="#7fa6c6" stroke-width="0.7" fill="none"/>
<polygon points="1232.9,548.2 1269.2,516.9 1269.2,679.7 1232.9,711.4" fill="#c4d2dc" fill-opacity="0.82" stroke="#9fb0bb" stroke-width="0.6"/>
<polygon points="1169.0,548.2 1205.7,516.9 1205.7,679.7 1169.0,711.4" fill="#8badc6" stroke="#5f8fb2" stroke-width="0.5"/>
<polygon points="1156.3,548.2 1191.7,516.5 1205.7,516.5 1169.0,548.2" fill="#3ea3dd" />
<polygon points="1156.3,548.2 1169.0,548.2 1169.0,711.4 1156.3,711.4" fill="#1e9ad6" />
<polygon points="1316.4,548.2 1351.9,516.5 1351.9,679.7 1316.4,711.4" fill="#197eb3" />
<polygon points="1302.8,548.2 1337.2,516.5 1351.9,516.5 1316.4,548.2" fill="#4aa9df" />
<polygon points="1302.8,548.2 1316.4,548.2 1316.4,711.4 1302.8,711.4" fill="#1e9ad6" />
<circle cx="1187.2" cy="590.8" r="6.6" fill="url(#gBallW)"/>
<circle cx="1197.1" cy="632.1" r="6.6" fill="url(#gBallW)"/>
<circle cx="1185.3" cy="678.5" r="6.6" fill="url(#gBallW)"/>
<circle cx="1217.5" cy="594.2" r="6.6" fill="url(#gBallW)"/>
<circle cx="1218.2" cy="662.7" r="6.6" fill="url(#gBallW)"/>
<circle cx="1251.1" cy="574.3" r="6.6" fill="url(#gBallW)"/>
<circle cx="1265.8" cy="633.2" r="6.6" fill="url(#gBallW)"/>
<circle cx="1286.9" cy="566.3" r="6.6" fill="url(#gBallW)"/>
<circle cx="1293.7" cy="605.3" r="6.6" fill="url(#gBallW)"/>
<circle cx="1287.3" cy="659.3" r="6.6" fill="url(#gBallW)"/>
<path d="M1233,658.2 L1280.5,658.2" stroke="#f6a8a8" stroke-width="0.7"/>
<circle cx="1196.7" cy="575" r="1.1" fill="#f79a9a"/>
<circle cx="1240.9" cy="605.3" r="1.1" fill="#f79a9a"/>
<circle cx="1214.8" cy="632" r="1.1" fill="#f79a9a"/>
<path d="M1179.7,527.8 L1179.7,491.5 L1240.9,491.5 L1246.1,500.6 L1253.3,479.1 L1260.1,500.6 L1266.9,479.1 L1273.3,500.6 L1276,491.5 L1328.1,491.5 L1328.1,531.2" fill="none" stroke="#1a1a1a" stroke-width="1.4"/>
<path d="M1228.6,483.2 l0.6,2.6 M1232.5,473.5 l0.8,0.6" stroke="#555" stroke-width="0.8"/>
<text transform="translate(1165.6,626.5) rotate(-90)" font-family='"Liberation Sans", Arial, Helvetica, sans-serif' font-size="8.6" font-weight="700" text-anchor="middle" fill="#0a1420">Cathode</text>
<text transform="translate(1312.6,631.5) rotate(-90)" font-family='"Liberation Sans", Arial, Helvetica, sans-serif' font-size="8.6" font-weight="700" text-anchor="middle" fill="#0a1420">Anode</text>
<defs>
<radialGradient id="gBallR2" cx="0.4" cy="0.35" r="0.7">
<stop offset="0" stop-color="#ff4a4a"/><stop offset="0.55" stop-color="#f00808"/><stop offset="1" stop-color="#b00000"/>
</radialGradient>
<clipPath id="clipFront"><polygon points="1525.6,571.5 1618.8,617.7 1618.8,750 1525.6,703.4"/></clipPath>
</defs>
<polygon points="1434.0,637.7 1470.6,620.3 1475.8,629.5 1438.3,648.4" fill="#1c8fd1" />
<polygon points="1434.0,637.7 1438.3,648.4 1436.2,649.2 1431.8,640.2" fill="#5fb3e4" />
<polygon points="1638.3,527.1 1654.6,519.6 1662.0,533.0 1645.7,540.5" fill="#1c8fd1" />
<polygon points="1562.7,779.0 1713.9,701.9 1713.9,640.0 1562.7,640.0" fill="#1edcf6" />
<polygon points="1469.3,602.6 1525.6,571.5 1525.6,632.0" fill="#7df0fa" />
<polygon points="1568.6,548.7 1614.6,525.0 1614.6,574.0" fill="#7df0fa" />
<polygon points="1614.6,525.0 1713.9,570.0 1713.9,701.9 1614.6,656.0" fill="#8ec3e8" />
<polygon points="1614.6,525.0 1620.5,521.1 1713.9,566.5 1713.9,570.0" fill="#b9d9f0" />
<polygon points="1614.6,525.0 1620.5,528.0 1620.5,659.0 1614.6,656.0" fill="#a5cfee" />
<polygon points="1708.4,567.5 1713.9,570.0 1713.9,701.9 1708.4,699.4" fill="#a5cfee" />
<polygon points="1714.5,668.5 1731.6,659.0 1737.6,668.5 1718.3,681.5 1714.5,680.0" fill="#1c8fd1" />
<ellipse cx="1618.4" cy="558.8" rx="4.2" ry="5.4" fill="url(#gBallW)" transform="rotate(-25 1618.4 558.8)"/>
<ellipse cx="1654.6" cy="562" rx="4.2" ry="5.4" fill="url(#gBallW)" transform="rotate(-25 1654.6 562)"/>
<ellipse cx="1638.3" cy="581.3" rx="4.2" ry="5.4" fill="url(#gBallW)" transform="rotate(-25 1638.3 581.3)"/>
<ellipse cx="1667.3" cy="591.7" rx="4.2" ry="5.4" fill="url(#gBallW)" transform="rotate(-25 1667.3 591.7)"/>
<ellipse cx="1684.2" cy="611.5" rx="4.2" ry="5.4" fill="url(#gBallW)" transform="rotate(-25 1684.2 611.5)"/>
<ellipse cx="1692.2" cy="618.1" rx="4.2" ry="5.4" fill="url(#gBallW)" transform="rotate(-25 1692.2 618.1)"/>
<ellipse cx="1678.3" cy="642.7" rx="4.2" ry="5.4" fill="url(#gBallW)" transform="rotate(-25 1678.3 642.7)"/>
<ellipse cx="1676.2" cy="668.7" rx="4.2" ry="5.4" fill="url(#gBallW)" transform="rotate(-25 1676.2 668.7)"/>
<ellipse cx="1684.2" cy="699.9" rx="4.2" ry="5.4" fill="url(#gBallW)" transform="rotate(-25 1684.2 699.9)"/>
<polygon points="1525.6,571.5 1568.6,548.7 1662.0,595.2 1622.0,619.0" fill="#fff64f" />
<polygon points="1525.6,571.5 1531.5,568.4 1626.0,615.5 1618.8,619.0" fill="#ffd75a" />
<polygon points="1525.6,571.5 1618.8,617.7 1618.8,750.0 1525.6,703.4" fill="#ffc90f" />
<polygon points="1618.8,617.7 1627.9,613.4 1627.9,745.6 1618.8,750.0" fill="#ffb54c" />
<polygon points="1627.9,613.4 1654.6,599.7 1654.6,727.1 1627.9,745.6" fill="#ffff00" />
<polygon points="1654.6,599.7 1662.0,595.2 1662.0,723.0 1654.6,727.1" fill="#ffb54c" />
<g clip-path="url(#clipFront)"><line x1="1531.6" y1="589.8" x2="1604.8" y2="628.2" stroke="#ffe9a6" stroke-width="0.9"/><line x1="1531.6" y1="602.9" x2="1604.8" y2="641.3" stroke="#ffe9a6" stroke-width="0.9"/><line x1="1531.6" y1="616.0" x2="1604.8" y2="654.4" stroke="#ffe9a6" stroke-width="0.9"/><line x1="1531.6" y1="629.1" x2="1604.8" y2="667.5" stroke="#ffe9a6" stroke-width="0.9"/><line x1="1531.6" y1="642.2" x2="1604.8" y2="680.6" stroke="#ffe9a6" stroke-width="0.9"/><line x1="1531.6" y1="655.3" x2="1604.8" y2="693.7" stroke="#ffe9a6" stroke-width="0.9"/><line x1="1531.6" y1="668.4" x2="1604.8" y2="706.8" stroke="#ffe9a6" stroke-width="0.9"/><line x1="1531.6" y1="681.5" x2="1604.8" y2="719.9" stroke="#ffe9a6" stroke-width="0.9"/></g>
<line x1="1576.1" y1="555.4" x2="1545.8" y2="571.3" stroke="#ff0000" stroke-width="1.1" /><polygon points="1542.1,573.2 1544.9,569.6 1546.7,572.9" fill="#ff0000"/>
<line x1="1597" y1="567.1" x2="1566.7" y2="584.2" stroke="#ff0000" stroke-width="1.1" /><polygon points="1563.0,586.3 1565.7,582.6 1567.6,585.9" fill="#ff0000"/>
<line x1="1620.5" y1="578.5" x2="1589.3" y2="595.6" stroke="#ff5a2a" stroke-width="1.1" stroke-dasharray="2.5 1.5"/><polygon points="1585.6,597.6 1588.4,593.9 1590.2,597.3" fill="#ff5a2a"/>
<line x1="1640" y1="595" x2="1614.6" y2="608.0" stroke="#ff0000" stroke-width="1.1" /><polygon points="1610.9,609.9 1613.8,606.3 1615.5,609.7" fill="#ff0000"/>
<line x1="1654.6" y1="619" x2="1632.1" y2="633.2" stroke="#ff0000" stroke-width="1.1" /><polygon points="1628.6,635.5 1631.1,631.6 1633.2,634.9" fill="#ff0000"/>
<line x1="1654.6" y1="648.6" x2="1632.1" y2="663.2" stroke="#ff0000" stroke-width="1.1" /><polygon points="1628.6,665.5 1631.1,661.6 1633.2,664.8" fill="#ff0000"/>
<line x1="1654.6" y1="679.7" x2="1632.1" y2="694.2" stroke="#ff0000" stroke-width="1.1" /><polygon points="1628.6,696.5 1631.1,692.6 1633.2,695.8" fill="#ff0000"/>
<line x1="1654.6" y1="718.2" x2="1632.4" y2="733.2" stroke="#ff0000" stroke-width="1.1" /><polygon points="1628.9,735.5 1631.3,731.6 1633.4,734.7" fill="#ff0000"/>
<text x="1638.6" y="621.5" font-family='"Liberation Sans", Arial, Helvetica, sans-serif' font-size="7.6" font-weight="700" fill="#111">H<tspan font-size="4.6" dy="-3">+</tspan></text>
<text x="1631.6" y="652" font-family='"Liberation Sans", Arial, Helvetica, sans-serif' font-size="7.6" font-weight="700" fill="#111">H<tspan font-size="4.6" dy="-3">+</tspan></text>
<text x="1637.6" y="681.7" font-family='"Liberation Sans", Arial, Helvetica, sans-serif' font-size="7.6" font-weight="700" fill="#111">H<tspan font-size="4.6" dy="-3">+</tspan></text>
<text x="1632.2" y="720.5" font-family='"Liberation Sans", Arial, Helvetica, sans-serif' font-size="7.6" font-weight="700" fill="#111">H<tspan font-size="4.6" dy="-3">+</tspan></text>
<text x="1656.4" y="606.5" font-family='"Liberation Sans", Arial, Helvetica, sans-serif' font-size="5" font-weight="700" fill="#222">e</text>
<text x="1656.4" y="635.5" font-family='"Liberation Sans", Arial, Helvetica, sans-serif' font-size="5" font-weight="700" fill="#222">e</text>
<text x="1656.4" y="662.5" font-family='"Liberation Sans", Arial, Helvetica, sans-serif' font-size="5" font-weight="700" fill="#222">e</text>
<text x="1656.4" y="689" font-family='"Liberation Sans", Arial, Helvetica, sans-serif' font-size="5" font-weight="700" fill="#222">e</text>
<text x="1656.4" y="716" font-family='"Liberation Sans", Arial, Helvetica, sans-serif' font-size="5" font-weight="700" fill="#222">e</text>
<text transform="translate(1546.2,595.6) rotate(30) skewX(-18)" font-family='"Liberation Sans", Arial, Helvetica, sans-serif' font-size="10.6" font-weight="700" fill="#111">Electrode</text>
<polygon points="1509.7,775.3 1553.0,753.6 1559.0,766.0 1515.0,788.0" fill="#199bd7" />
<polygon points="1509.7,775.3 1515.0,788.0 1513.4,788.8 1508.2,776.2" fill="#7fc0ea" />
<circle cx="1502" cy="615.1" r="4.6" fill="url(#gBallR2)"/>
<circle cx="1508.9" cy="609.9" r="6" fill="url(#gBallR2)"/>
<circle cx="1542.1" cy="635.1" r="5" fill="url(#gBallR2)"/>
<circle cx="1549.9" cy="633.4" r="5.5" fill="url(#gBallR2)"/>
<circle cx="1568.2" cy="667.4" r="6" fill="url(#gBallR2)"/>
<circle cx="1576.4" cy="670" r="6" fill="url(#gBallR2)"/>
<circle cx="1567.1" cy="728.6" r="5.6" fill="url(#gBallR2)"/>
<circle cx="1571.6" cy="736.5" r="5.6" fill="url(#gBallR2)"/>
<polygon points="1555.3,652.4 1562.7,648.6 1562.7,779.0 1555.3,783.5" fill="#9cc6e6" />
<polygon points="1462.5,606.5 1469.3,602.6 1562.7,648.6 1555.3,652.4" fill="#a9cde9" />
<polygon points="1462.5,606.5 1555.3,652.4 1555.3,783.5 1462.5,738.4" fill="#199bd7" />
<path d="M1536,766.5 L1550,759.5 L1554.8,768.6 M1536,766.5 L1541,776" stroke="#1580bd" stroke-width="0.7" stroke-dasharray="1.6 1.2" fill="none"/>
<path d="M1462.8,624 L1472,619.6 L1476.4,628.4" stroke="#1580bd" stroke-width="0.7" stroke-dasharray="1.6 1.2" fill="none"/>
<text x="1499" y="688" font-family='"Liberation Sans", Arial, Helvetica, sans-serif' font-size="18.6" text-anchor="middle" fill="#e9f6ff">Fuel</text>
<text x="1501" y="711.7" font-family='"Liberation Sans", Arial, Helvetica, sans-serif' font-size="18.6" text-anchor="middle" fill="#e9f6ff">Cell</text>
<path d="M1530.2,567.1 L1530.2,535.7 L1542.1,529.6 M1552.5,524.4 L1558.5,521 L1565.6,518.3 L1565.6,548.8" stroke="#111" stroke-width="1" fill="none"/>
<path d="M1541.6,529.8 L1544,522.6 L1546.4,533 L1548.8,521.4 L1551,531.4 L1552.8,524.2" stroke="#111" stroke-width="1.5" fill="none"/>
<path d="M1556,511.3 L1535,523.1" stroke="#111" stroke-width="0.9" fill="none"/>
<polygon points="1532.3,524.6 1536.6,520.6 1538.2,523.8" fill="#111"/>
<line x1="1659" y1="527.9" x2="1696.1" y2="504.8" stroke="#111" stroke-width="0.9"/><polygon points="1696.1,504.8 1693.2,508.6 1691.4,505.7" fill="#111"/>
<line x1="1771.7" y1="641.8" x2="1737.6" y2="661.9" stroke="#111" stroke-width="0.9"/><polygon points="1737.6,661.9 1740.6,658.2 1742.3,661.1" fill="#111"/>
<line x1="1405.6" y1="660.4" x2="1436.7" y2="644.1" stroke="#111" stroke-width="0.9"/><polygon points="1436.7,644.1 1433.5,647.7 1431.9,644.7" fill="#111"/>
<line x1="1512.3" y1="782" x2="1478.2" y2="801.2" stroke="#111" stroke-width="0.9"/><polygon points="1478.2,801.2 1481.3,797.5 1483.0,800.5" fill="#111"/>
<text transform="translate(1680.5,526.5) rotate(0)" font-family='"Liberation Sans", Arial, Helvetica, sans-serif' font-size="9" font-weight="700" fill="#111">H<tspan font-size="5.6" dy="2">2</tspan></text>
<text transform="translate(1741.5,646.5) rotate(0)" font-family='"Liberation Sans", Arial, Helvetica, sans-serif' font-size="9" font-weight="700" fill="#111">H<tspan font-size="5.6" dy="2">2</tspan></text>
<text transform="translate(1406.5,664.5) rotate(28)" font-family='"Liberation Sans", Arial, Helvetica, sans-serif' font-size="9" font-weight="700" fill="#111">O<tspan font-size="5.6" dy="2">2</tspan></text>
<text transform="translate(1482.5,783.5) rotate(28)" font-family='"Liberation Sans", Arial, Helvetica, sans-serif' font-size="9" font-weight="700" fill="#111">O<tspan font-size="5.6" dy="2">2</tspan></text>
<rect x="255" y="620.4" width="37.2" height="2" fill="#000"/>
<rect x="255" y="739.2" width="37.2" height="3" fill="#7f7f7f"/>
<rect x="255" y="859.6" width="40.6" height="2" fill="#000"/>
<rect x="522" y="924" width="2" height="38" fill="#000"/>
<rect x="774.2" y="924" width="2" height="38" fill="#000"/>
<rect x="1025" y="924" width="2" height="38" fill="#000"/>
<rect x="1275.2" y="924" width="2" height="38" fill="#000"/>
<rect x="255" y="960.9" width="1526" height="2.4" fill="#555"/>
<rect x="250.1" y="26.3" width="1535.8" height="7.1" fill="#000"/>
<rect x="255" y="33.2" width="1526" height="0.8" fill="#444"/>
<rect x="250.1" y="963" width="1535.8" height="5.6" fill="#000"/>
<rect x="250.1" y="26.3" width="5.8" height="942.3" fill="#000"/>
<rect x="1780" y="26.3" width="5.9" height="942.3" fill="#000"/>
<text transform="translate(124.5,66.6) scale(1,1.035)" font-family='"Liberation Sans", Arial, Helvetica, sans-serif' font-size="48.5" fill="#000">10</text>
<text x="178.4" y="41.1" font-family='"Liberation Sans", Arial, Helvetica, sans-serif' font-size="32" fill="#000">8</text>
<text transform="translate(124.5,182.1) scale(1,1.035)" font-family='"Liberation Sans", Arial, Helvetica, sans-serif' font-size="48.5" fill="#000">10</text>
<text x="178.4" y="156.6" font-family='"Liberation Sans", Arial, Helvetica, sans-serif' font-size="32" fill="#000">7</text>
<text transform="translate(124.5,297.6) scale(1,1.035)" font-family='"Liberation Sans", Arial, Helvetica, sans-serif' font-size="48.5" fill="#000">10</text>
<text x="178.4" y="272.1" font-family='"Liberation Sans", Arial, Helvetica, sans-serif' font-size="32" fill="#000">6</text>
<text transform="translate(124.5,413.1) scale(1,1.035)" font-family='"Liberation Sans", Arial, Helvetica, sans-serif' font-size="48.5" fill="#000">10</text>
<text x="178.4" y="387.6" font-family='"Liberation Sans", Arial, Helvetica, sans-serif' font-size="32" fill="#000">5</text>
<text transform="translate(124.5,528.6) scale(1,1.035)" font-family='"Liberation Sans", Arial, Helvetica, sans-serif' font-size="48.5" fill="#000">10</text>
<text x="178.4" y="503.1" font-family='"Liberation Sans", Arial, Helvetica, sans-serif' font-size="32" fill="#000">4</text>
<text transform="translate(124.5,644.1) scale(1,1.035)" font-family='"Liberation Sans", Arial, Helvetica, sans-serif' font-size="48.5" fill="#000">10</text>
<text x="178.4" y="618.6" font-family='"Liberation Sans", Arial, Helvetica, sans-serif' font-size="32" fill="#000">3</text>
<text transform="translate(124.5,759.6) scale(1,1.035)" font-family='"Liberation Sans", Arial, Helvetica, sans-serif' font-size="48.5" fill="#000">10</text>
<text x="178.4" y="734.1" font-family='"Liberation Sans", Arial, Helvetica, sans-serif' font-size="32" fill="#000">2</text>
<text transform="translate(124.5,875.1) scale(1,1.035)" font-family='"Liberation Sans", Arial, Helvetica, sans-serif' font-size="48.5" fill="#000">10</text>
<text x="178.4" y="849.6" font-family='"Liberation Sans", Arial, Helvetica, sans-serif' font-size="32" fill="#000">1</text>
<text transform="translate(124.5,990.6) scale(1,1.035)" font-family='"Liberation Sans", Arial, Helvetica, sans-serif' font-size="48.5" fill="#000">10</text>
<text x="178.4" y="965.1" font-family='"Liberation Sans", Arial, Helvetica, sans-serif' font-size="32" fill="#000">0</text>
<text transform="translate(237.8,1022.3) scale(1,1.035)" font-family='"Liberation Sans", Arial, Helvetica, sans-serif' font-size="48.5" fill="#000">10</text>
<text x="291.7" y="997.3" font-family='"Liberation Sans", Arial, Helvetica, sans-serif' font-size="32" fill="#000">-2</text>
<text transform="translate(490.4,1022.3) scale(1,1.035)" font-family='"Liberation Sans", Arial, Helvetica, sans-serif' font-size="48.5" fill="#000">10</text>
<text x="544.3" y="997.3" font-family='"Liberation Sans", Arial, Helvetica, sans-serif' font-size="32" fill="#000">-1</text>
<text transform="translate(743.0,1022.3) scale(1,1.035)" font-family='"Liberation Sans", Arial, Helvetica, sans-serif' font-size="48.5" fill="#000">10</text>
<text x="796.9" y="997.3" font-family='"Liberation Sans", Arial, Helvetica, sans-serif' font-size="32" fill="#000">0</text>
<text transform="translate(995.6,1022.3) scale(1,1.035)" font-family='"Liberation Sans", Arial, Helvetica, sans-serif' font-size="48.5" fill="#000">10</text>
<text x="1049.5" y="997.3" font-family='"Liberation Sans", Arial, Helvetica, sans-serif' font-size="32" fill="#000">1</text>
<text transform="translate(1248.2,1022.3) scale(1,1.035)" font-family='"Liberation Sans", Arial, Helvetica, sans-serif' font-size="48.5" fill="#000">10</text>
<text x="1302.1" y="997.3" font-family='"Liberation Sans", Arial, Helvetica, sans-serif' font-size="32" fill="#000">2</text>
<text transform="translate(1500.8,1022.3) scale(1,1.035)" font-family='"Liberation Sans", Arial, Helvetica, sans-serif' font-size="48.5" fill="#000">10</text>
<text x="1554.7" y="997.3" font-family='"Liberation Sans", Arial, Helvetica, sans-serif' font-size="32" fill="#000">3</text>
<text transform="translate(1753.4,1022.3) scale(1,1.035)" font-family='"Liberation Sans", Arial, Helvetica, sans-serif' font-size="48.5" fill="#000">10</text>
<text x="1807.3" y="997.3" font-family='"Liberation Sans", Arial, Helvetica, sans-serif' font-size="32" fill="#000">4</text>
<text x="973.8" y="1116" font-family='"Liberation Sans", Arial, Helvetica, sans-serif' font-weight="700" font-size="59.5" text-anchor="middle" fill="#000">Energy Density (Wh/kg)</text>
<text transform="translate(67,533) rotate(-90)" font-family='"Liberation Sans", Arial, Helvetica, sans-serif' font-weight="700" font-size="57.6" text-anchor="middle" fill="#000">Power Density (W/kg)</text>
</svg>
</body>
</html>
